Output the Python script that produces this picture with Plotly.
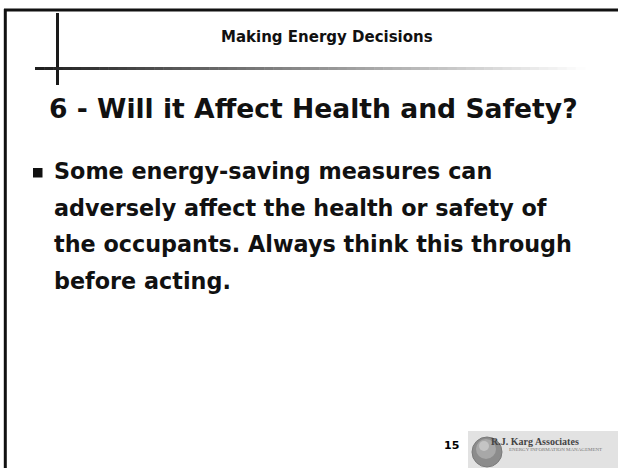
import plotly.graph_objects as go

# ---- slide content ----
header_text = "Making Energy Decisions"
title_text = "6 - Will it Affect Health and Safety?"
body_lines = [
    "Some energy-saving measures can",
    "adversely affect the health or safety of",
    "the occupants. Always think this through",
    "before acting.",
]
slide_number = "15"
logo_name = "R.J. Karg Associates"
logo_tag = "Energy Information Management"

W, H = 618, 468
FONT = "DejaVu Sans"

fig = go.Figure()
shapes = []
annotations = []

# border (top and left)
shapes.append(dict(type="line", x0=4, x1=W, y0=10, y1=10, line=dict(color="#111111", width=3)))
shapes.append(dict(type="line", x0=5.3, x1=5.3, y0=9, y1=H, line=dict(color="#111111", width=3)))

# vertical accent line
shapes.append(dict(type="line", x0=57.5, x1=57.5, y0=13, y1=85, line=dict(color="#1a1a1a", width=3)))

# horizontal gradient accent line
x_start, x_end, nseg = 35, 585, 60
for i in range(nseg):
    xa = x_start + (x_end - x_start) * i / nseg
    xb = x_start + (x_end - x_start) * (i + 1) / nseg
    t = (i + 0.5) / nseg
    c = int(30 + (255 - 30) * t)
    shapes.append(dict(type="line", x0=xa, x1=xb + 0.5, y0=68.5, y1=68.5,
                       line=dict(color=f"rgb({c},{c},{c})", width=3)))

# header
annotations.append(dict(x=327, y=37, text=f"<b>{header_text}</b>", showarrow=False,
                        xanchor="center", yanchor="middle",
                        font=dict(family=FONT, size=15, color="#111111")))
# title
annotations.append(dict(x=47, y=108, text=f"<b>{title_text}</b>", showarrow=False,
                        xanchor="left", yanchor="middle",
                        font=dict(family=FONT, size=26.6, color="#111111")))

# bullet square
shapes.append(dict(type="rect", x0=33, x1=42.5, y0=168, y1=177.5,
                   fillcolor="#111111", line=dict(width=0)))

# body lines
line_y = [171, 207.5, 244, 280.5]
for txt, yy in zip(body_lines, line_y):
    annotations.append(dict(x=52, y=yy, text=f"<b>{txt}</b>", showarrow=False,
                            xanchor="left", yanchor="middle",
                            font=dict(family=FONT, size=22.3, color="#111111")))

# slide number
annotations.append(dict(x=451.5, y=445, text=f"<b>{slide_number}</b>", showarrow=False,
                        xanchor="center", yanchor="middle",
                        font=dict(family="DejaVu Sans", size=11, color="#000000")))

# logo box
shapes.append(dict(type="rect", x0=468, x1=W, y0=431, y1=H,
                   fillcolor="#e2e2e2", line=dict(width=0)))
# globe
shapes.append(dict(type="circle", x0=472, x1=502, y0=437, y1=467,
                   fillcolor="#8c8c8c", line=dict(color="#7a7a7a", width=1)))
shapes.append(dict(type="circle", x0=476, x1=496, y0=439, y1=459,
                   fillcolor="#a8a8a8", line=dict(width=0)))
shapes.append(dict(type="circle", x0=479, x1=489, y0=441, y1=451,
                   fillcolor="#c4c4c4", line=dict(width=0)))
annotations.append(dict(x=489, y=441, text=f"<b>{logo_name}</b>", showarrow=False,
                        xanchor="left", yanchor="middle",
                        font=dict(family="Liberation Serif", size=10, color="#444444")))
annotations.append(dict(x=507, y=449, text=logo_tag.upper(), showarrow=False,
                        xanchor="left", yanchor="middle",
                        font=dict(family="Liberation Serif", size=5, color="#777777")))

fig.update_layout(
    width=W, height=H,
    margin=dict(l=0, r=0, t=0, b=0),
    paper_bgcolor="white", plot_bgcolor="white",
    xaxis=dict(range=[0, W], visible=False, fixedrange=True),
    yaxis=dict(range=[H, 0], visible=False, fixedrange=True),
    shapes=shapes,
    annotations=annotations,
    showlegend=False,
)

fig.write_html("out.html", config={"displayModeBar": False},
               post_script="document.body.style.margin='0';document.body.style.overflow='hidden';")
